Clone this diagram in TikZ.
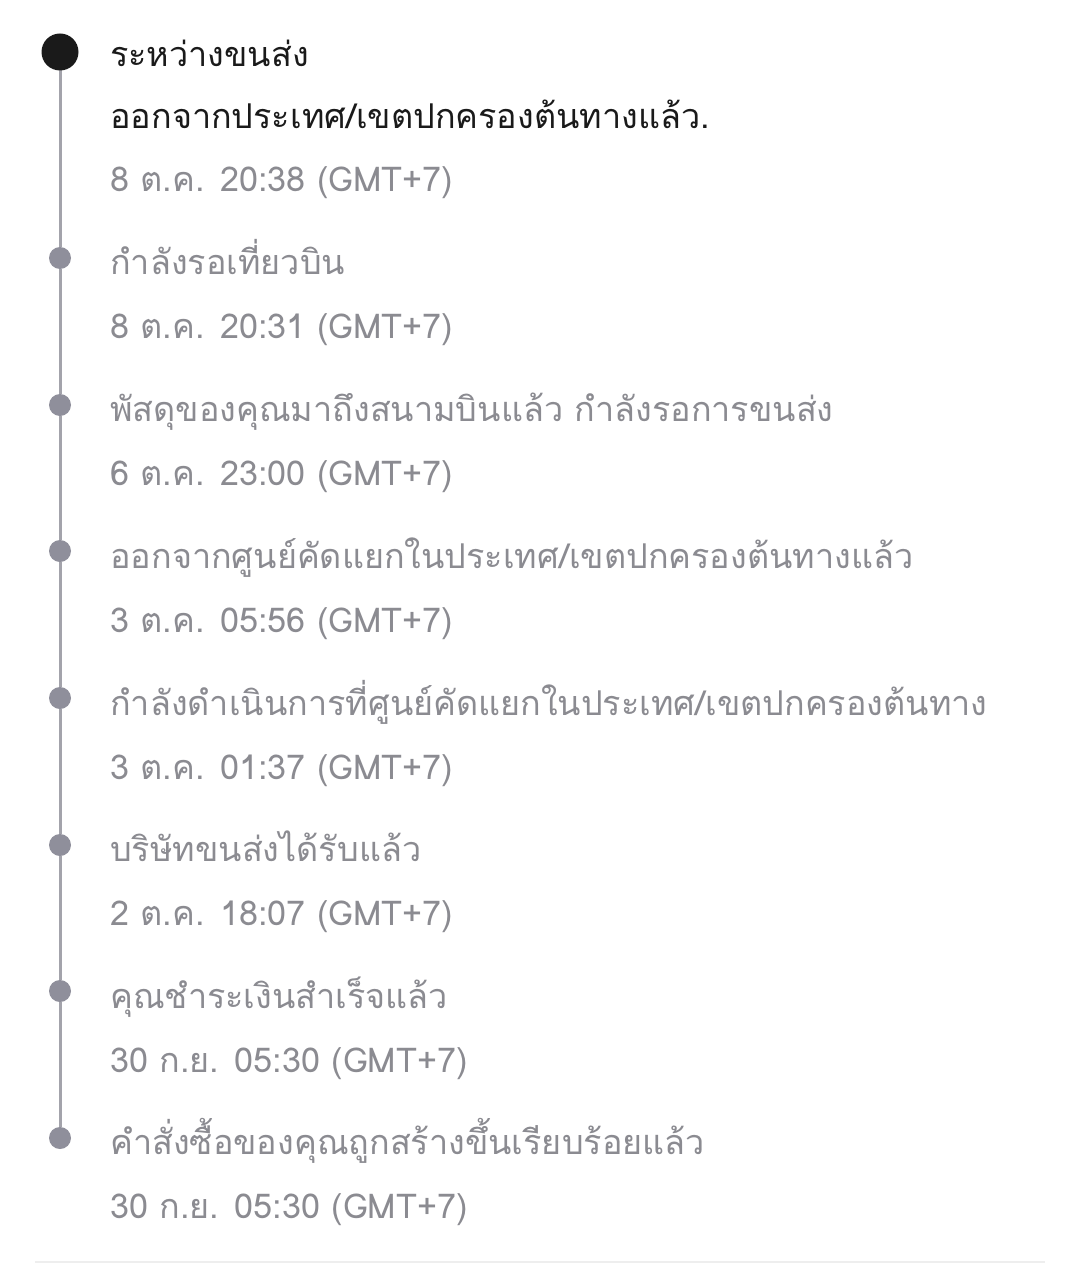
\documentclass[tikz,border=0pt]{standalone}
\usepackage{fontspec}
\newfontfamily\thaifont[Script=Thai]{Loma}
\definecolor{inkdark}{HTML}{1A1A1A}
\definecolor{inkgray}{HTML}{8B8B91}
\definecolor{dotgray}{HTML}{8F8F9B}
\definecolor{railgray}{HTML}{A3A3AB}
\definecolor{rulegray}{HTML}{EEEEEE}

\begin{document}
\begin{tikzpicture}[x=0.025cm,y=-0.025cm,
    stepdot/.style={shape=circle,fill=dotgray,inner sep=0pt,minimum size=22*0.025cm},
    nowdot/.style={shape=circle,fill=inkdark,inner sep=0pt,minimum size=37*0.025cm},
    rail/.style={draw=railgray,line width=3*0.025cm},
    evtext/.style={anchor=base west,inner sep=0pt,text=inkgray,font=\thaifont\fontsize{24.3}{28}\selectfont},
    nowtext/.style={evtext,text=inkdark}]
      \useasboundingbox[fill=white] (0,0) rectangle (1080,1280);

      \node[stepdot] (D2) at (60,258) {};
      \node[stepdot] (D3) at (60,405) {};
      \node[stepdot] (D4) at (60,551) {};
      \node[stepdot] (D5) at (60,698) {};
      \node[stepdot] (D6) at (60,845) {};
      \node[stepdot] (D7) at (60,991) {};
      \node[stepdot] (D8) at (60,1138) {};
      \coordinate (D1) at (60,52);

      \path[rail] (D1) -- (D2) -- (D3) -- (D4) -- (D5) -- (D6) -- (D7) -- (D8);
      \node[nowdot] (N1) at (D1) {};

      \node[nowtext] (T1) at (110,67) {ระหว่างขนส่ง};
      \node[nowtext] (S1) at (110,129) {ออกจากประเทศ/เขตปกครองต้นทางแล้ว.};
      \node[evtext] (W1) at (110,192) {8 ต.ค. 20:38 (GMT+7)};

      \node[evtext] (T2) at (110,274) {กำลังรอเที่ยวบิน};
      \node[evtext] (W2) at (110,338) {8 ต.ค. 20:31 (GMT+7)};

      \node[evtext] (T3) at (110,421) {พัสดุของคุณมาถึงสนามบินแล้ว กำลังรอการขนส่ง};
      \node[evtext] (W3) at (110,485) {6 ต.ค. 23:00 (GMT+7)};

      \node[evtext] (T4) at (110,568) {ออกจากศูนย์คัดแยกในประเทศ/เขตปกครองต้นทางแล้ว};
      \node[evtext] (W4) at (110,632) {3 ต.ค. 05:56 (GMT+7)};

      \node[evtext] (T5) at (110,715) {กำลังดำเนินการที่ศูนย์คัดแยกในประเทศ/เขตปกครองต้นทาง};
      \node[evtext] (W5) at (110,779) {3 ต.ค. 01:37 (GMT+7)};

      \node[evtext] (T6) at (110,861) {บริษัทขนส่งได้รับแล้ว};
      \node[evtext] (W6) at (110,925) {2 ต.ค. 18:07 (GMT+7)};

      \node[evtext] (T7) at (110,1008) {คุณชำระเงินสำเร็จแล้ว};
      \node[evtext] (W7) at (110,1072) {30 ก.ย. 05:30 (GMT+7)};

      \node[evtext] (T8) at (110,1154) {คำสั่งซื้อของคุณถูกสร้างขึ้นเรียบร้อยแล้ว};
      \node[evtext] (W8) at (110,1218) {30 ก.ย. 05:30 (GMT+7)};

      \draw[rulegray,line width=2*0.025cm] (35,1262) -- (1045,1262);
    \end{tikzpicture}
\end{document}
